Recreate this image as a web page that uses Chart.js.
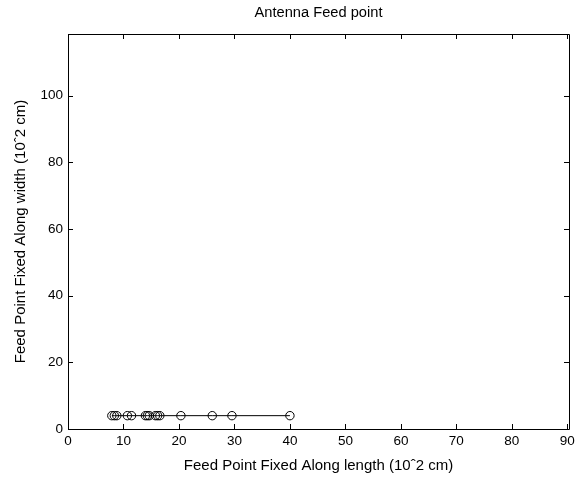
<!DOCTYPE html>
<html><head><meta charset="utf-8">
<script src="https://cdn.jsdelivr.net/npm/chart.js@4"></script>
<style>html,body{margin:0;padding:0;background:#fff}</style>
</head><body>
<canvas id="c" width="582" height="479"></canvas>
<script>
const feedX = [7.9, 8.35, 8.8, 10.7, 11.45, 13.95, 14.3, 14.65, 15.75, 16.15, 16.55, 20.35, 26.0, 29.55, 40.0];
const feedY = [4, 4, 4, 4, 4, 4, 4, 4, 4, 4, 4, 4, 4, 4, 4];
const xTicks = [0, 10, 20, 30, 40, 50, 60, 70, 80, 90];
const yTicks = [0, 20, 40, 60, 80, 100];
const xRange = [0, 90.3];
const yRange = [0, 118.5];
const titleText = 'Antenna Feed point';
const xLabel = 'Feed Point Fixed Along length (10ˆ2 cm)';
const yLabel = 'Feed Point Fixed Along width (10ˆ2 cm)';

const FONT = '"Liberation Sans", Arial, sans-serif';

const boxTicks = {
  id: 'boxTicks',
  afterDraw(chart) {
    const {ctx, chartArea: a, scales: {x, y}} = chart;
    const L = 5;
    ctx.save();
    ctx.strokeStyle = '#000';
    ctx.lineWidth = 1;
    ctx.beginPath();
    ctx.rect(Math.round(a.left) + 0.5, Math.round(a.top) + 0.5,
             Math.round(a.right - a.left), Math.round(a.bottom - a.top));
    xTicks.forEach(v => {
      const px = Math.round(x.getPixelForValue(v)) + 0.5;
      ctx.moveTo(px, a.bottom); ctx.lineTo(px, a.bottom - L);
      ctx.moveTo(px, a.top); ctx.lineTo(px, a.top + L);
    });
    yTicks.forEach(v => {
      const py = Math.round(y.getPixelForValue(v)) + 0.5;
      ctx.moveTo(a.left, py); ctx.lineTo(a.left + L, py);
      ctx.moveTo(a.right, py); ctx.lineTo(a.right - L, py);
    });
    ctx.stroke();
    ctx.restore();
  }
};

new Chart(document.getElementById('c'), {
  type: 'scatter',
  data: {
    datasets: [{
      data: feedX.map((v, i) => ({x: v, y: feedY[i]})),
      showLine: true,
      borderColor: '#000',
      borderWidth: 1,
      backgroundColor: 'rgba(0,0,0,0)',
      pointStyle: 'circle',
      pointRadius: 4.2,
      pointBorderColor: '#000',
      pointBorderWidth: 1,
      pointBackgroundColor: 'rgba(0,0,0,0)'
    }]
  },
  options: {
    responsive: false,
    animation: false,
    devicePixelRatio: 1,
    layout: {padding: {left: 0, right: 13, top: 0, bottom: 0}},
    plugins: {
      legend: {display: false},
      tooltip: {enabled: false},
      title: {display: false}
    },
    scales: {
      x: {
        type: 'linear',
        position: 'bottom',
        min: xRange[0], max: xRange[1],
        afterBuildTicks: s => { s.ticks = xTicks.map(v => ({value: v})); },
        afterFit: s => { s.height = 50; },
        grid: {display: false, drawTicks: false},
        border: {display: false},
        ticks: {color: '#000', font: {family: FONT, size: 13.5}, padding: 4, maxRotation: 0},
        title: {display: true, text: xLabel, color: '#000', font: {family: FONT, size: 15}, padding: {top: 0, bottom: 4}}
      },
      xTop: {
        type: 'linear',
        position: 'top',
        min: xRange[0], max: xRange[1],
        afterFit: s => { s.height = 34; },
        grid: {display: false, drawTicks: false},
        border: {display: false},
        ticks: {display: false},
        title: {display: true, text: titleText, color: '#000', font: {family: FONT, size: 14.67}, padding: {top: 4, bottom: 0}}
      },
      y: {
        type: 'linear',
        min: yRange[0], max: yRange[1],
        afterBuildTicks: s => { s.ticks = yTicks.map(v => ({value: v})); },
        afterFit: s => { s.width = 68; },
        grid: {display: false, drawTicks: false},
        border: {display: false},
        ticks: {color: '#000', font: {family: FONT, size: 13.5}, padding: 5},
        title: {display: true, text: yLabel, color: '#000', font: {family: FONT, size: 15}, padding: {top: 12, bottom: 0}}
      }
    }
  },
  plugins: [boxTicks]
});
</script>
</body></html>
